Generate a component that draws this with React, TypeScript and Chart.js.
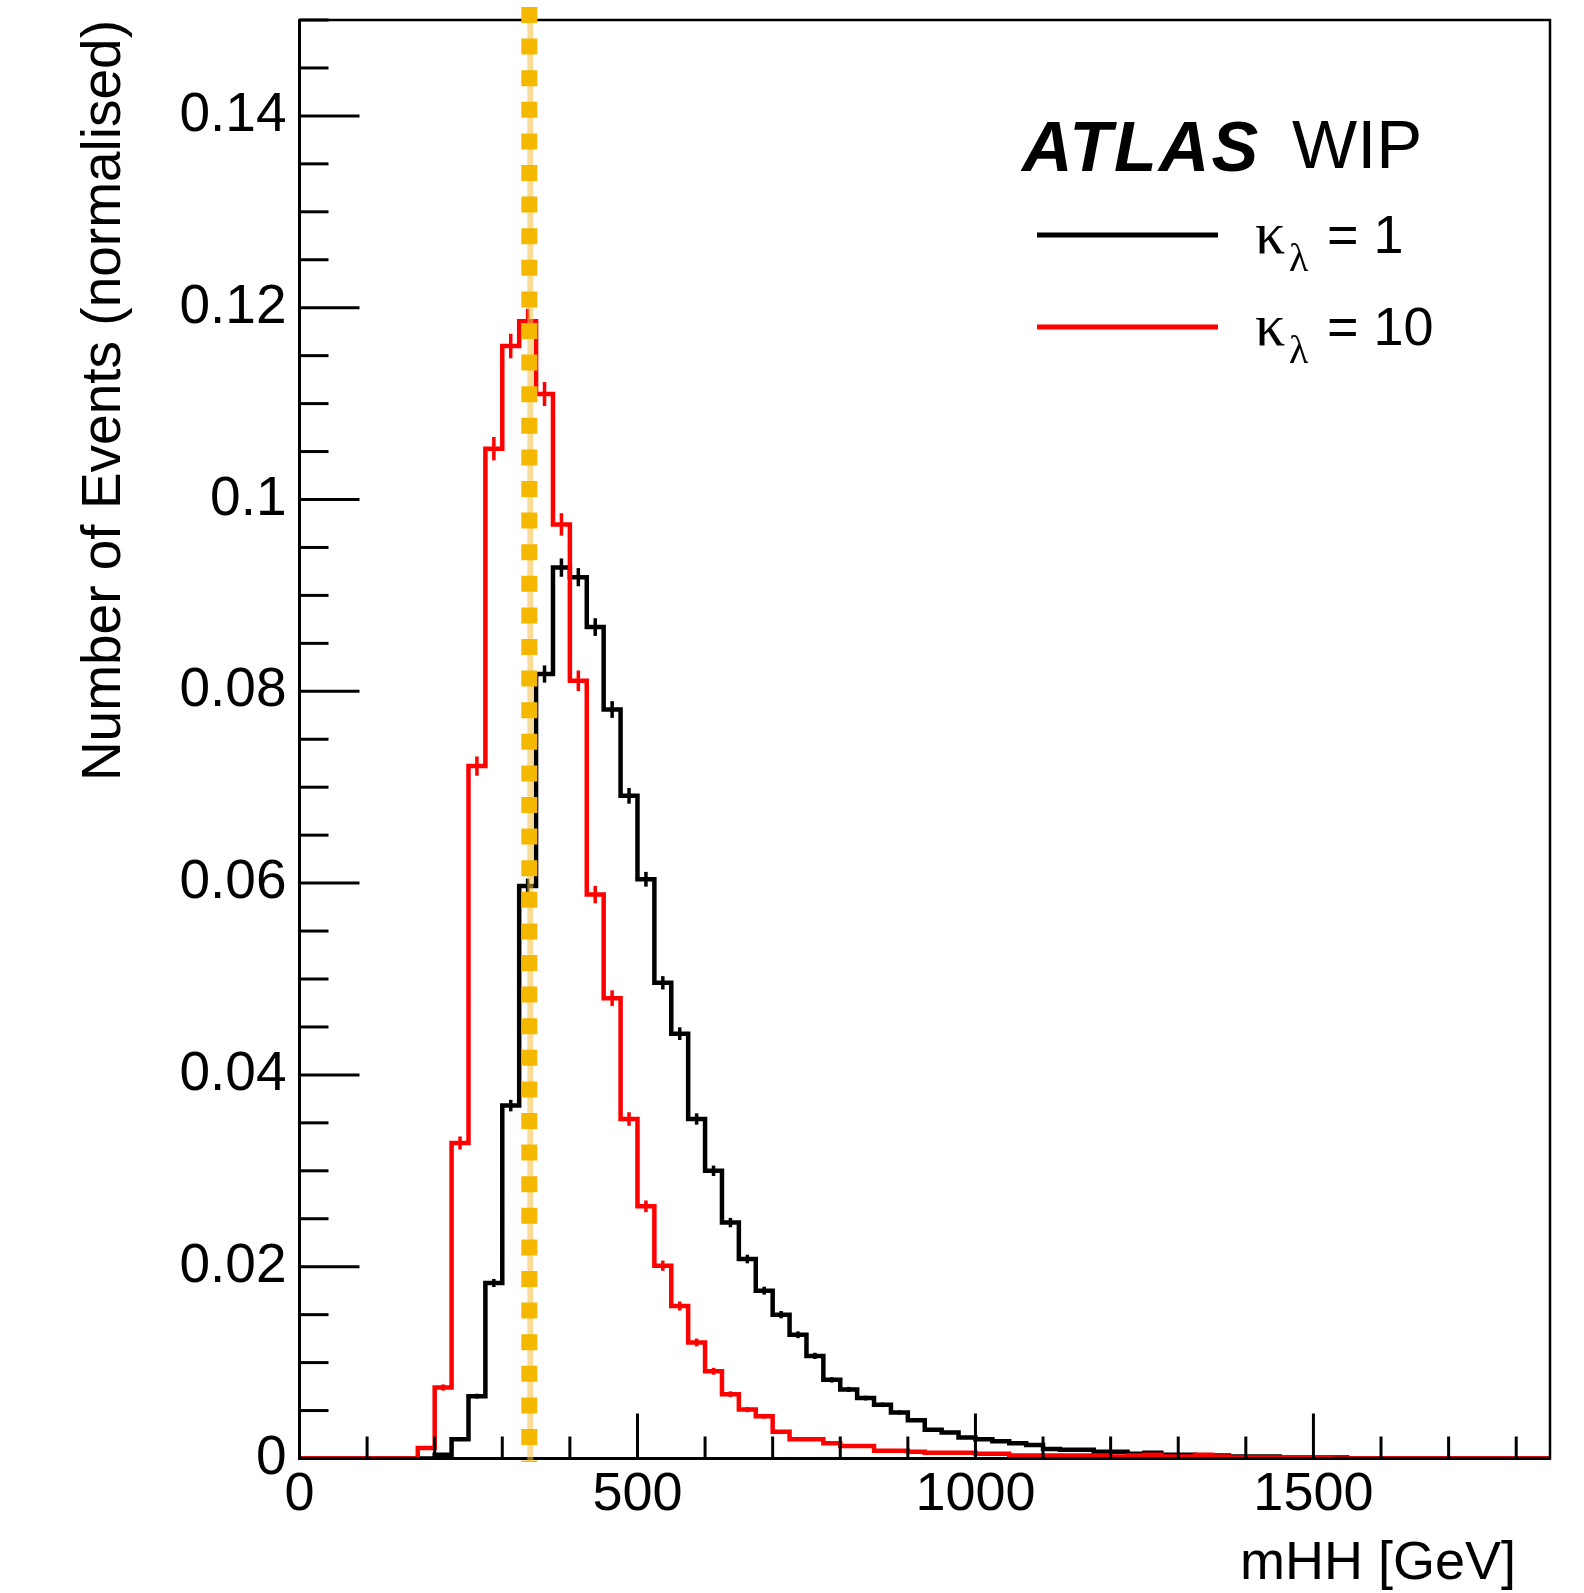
import React, { useEffect, useRef } from "react";
import { Chart, registerables } from "chart.js";

Chart.register(...registerables);

// ---- data ----
const BIN_WIDTH = 25; // GeV
const X_MIN = 0;
const X_MAX = 1850;
const Y_MIN = 0;
const Y_MAX = 0.15;
const xTickValues = [0, 500, 1000, 1500];
const yTickValues = [0, 0.02, 0.04, 0.06, 0.08, 0.1, 0.12, 0.14];
const xMinorStep = 100;
const yMinorStep = 0.005;

// kappa_lambda = 1 (black), bins of 25 GeV from 0 to 1850
const kappa1 = [
  0, 0, 0, 0, 0, 0, 0, 0,
  0.0004, 0.002, 0.0065, 0.0183, 0.0368, 0.0597, 0.0818, 0.0929, 0.0919, 0.0867,
  0.0781, 0.0691, 0.0604, 0.0496, 0.0443, 0.0354, 0.03, 0.0246, 0.0208, 0.0175,
  0.015, 0.0129, 0.0107, 0.0082, 0.0072, 0.0063, 0.0056, 0.0048, 0.004, 0.003,
  0.0027, 0.0022, 0.002, 0.0018, 0.0016, 0.0014, 0.001, 0.0009, 0.0009, 0.0007,
  0.0007, 0.0005, 0.0006, 0.0004, 0.0004, 0.0003, 0.0003, 0.0002, 0.0002, 0.0002,
  0.0001, 0.0001, 0.0001, 0.0001,
  0, 0, 0, 0, 0, 0, 0, 0, 0, 0, 0, 0,
];

// kappa_lambda = 10 (red)
const kappa10 = [
  0, 0, 0, 0, 0, 0, 0,
  0.0011, 0.0074, 0.0329, 0.0722, 0.1053, 0.116, 0.1186, 0.111, 0.0974, 0.0811,
  0.0588, 0.048, 0.0354, 0.0263, 0.0201, 0.0159, 0.0121, 0.0091, 0.0067, 0.0051,
  0.0044, 0.0028, 0.002, 0.002, 0.0016, 0.0013, 0.0013, 0.0008, 0.0008, 0.0007,
  0.0006, 0.0006, 0.0006, 0.0005, 0.0005, 0.0003, 0.0003, 0.0003, 0.0003, 0.0003,
  0.0003, 0.0002, 0.0003, 0.0004, 0.0002, 0.0002, 0.0004, 0.0002, 0.0001, 0.0001,
  0.0001, 0.0001, 0.0001, 0.0001,
  0, 0, 0, 0, 0, 0, 0, 0, 0, 0, 0, 0, 0,
];

const refMass = [340]; // GeV, vertical dashed marker
const legendValues = ["1", "10"];
const xTitle = "mHH [GeV]";
const yTitle = "Number of Events (normalised)";

const FONT = "'Liberation Sans', Arial, Helvetica, sans-serif";
const SERIF = "'Liberation Serif', 'Times New Roman', serif";
const RED = "#ff0000";
const BLACK = "#000000";
const ORANGE = "#f5b800";

function toPoints(vals: number[]) {
  const pts = vals.map((v, i) => ({ x: X_MIN + i * BIN_WIDTH, y: v }));
  pts.push({ x: X_MIN + vals.length * BIN_WIDTH, y: vals[vals.length - 1] });
  return pts;
}

const rootStyle = {
  id: "rootStyle",
  afterDraw(chart: any) {
    const { ctx, chartArea: a, scales } = chart;
    const xs = scales.x;
    const ys = scales.y;
    ctx.save();

    // error bars at bin centres
    chart.data.datasets.forEach((ds: any) => {
      ctx.strokeStyle = ds.borderColor;
      ctx.lineWidth = 3.5;
      (ds.binValues as number[]).forEach((v, i) => {
        if (v < 0.003) return;
        const cx = xs.getPixelForValue(X_MIN + (i + 0.5) * BIN_WIDTH);
        const cy = ys.getPixelForValue(v);
        const h = ds.errScale * Math.sqrt(v);
        ctx.beginPath();
        ctx.moveTo(cx, cy - h);
        ctx.lineTo(cx, cy + h);
        ctx.stroke();
      });
    });

    // frame
    ctx.strokeStyle = BLACK;
    ctx.lineWidth = 2.5;
    ctx.strokeRect(a.left, a.top, a.right - a.left, a.bottom - a.top);
    ctx.lineWidth = 3;
    ctx.beginPath();
    ctx.moveTo(a.left, a.top);
    ctx.lineTo(a.left, a.bottom);
    ctx.lineTo(a.right, a.bottom);
    ctx.stroke();

    // inside ticks
    ctx.lineWidth = 3;
    for (let v = X_MIN; v <= X_MAX + 1e-9; v += xMinorStep) {
      const px = xs.getPixelForValue(v);
      const major = xTickValues.includes(v);
      const len = major ? 45 : 22;
      ctx.beginPath();
      ctx.moveTo(px, a.bottom);
      ctx.lineTo(px, a.bottom - len);
      ctx.stroke();
    }
    const nY = Math.round((Y_MAX - Y_MIN) / yMinorStep);
    for (let k = 0; k <= nY; k++) {
      const v = Y_MIN + k * yMinorStep;
      const py = ys.getPixelForValue(v);
      const major = yTickValues.some((t) => Math.abs(t - v) < 1e-9);
      const len = major ? 60 : 29;
      ctx.beginPath();
      ctx.moveTo(a.left, py);
      ctx.lineTo(a.left + len, py);
      ctx.stroke();
    }

    // ATLAS WIP label
    ctx.fillStyle = BLACK;
    ctx.textBaseline = "alphabetic";
    ctx.textAlign = "left";
    ctx.font = `italic bold 70px ${FONT}`;
    (ctx as any).letterSpacing = "2px";
    ctx.fillText("ATLAS", 1022, 171);
    (ctx as any).letterSpacing = "0px";
    ctx.font = `69px ${FONT}`;
    ctx.fillText("WIP", 1292, 168);

    // legend
    const colors = [BLACK, RED];
    const rowsY = [235, 327];
    legendValues.forEach((val, i) => {
      const y = rowsY[i];
      ctx.strokeStyle = colors[i];
      ctx.lineWidth = 5;
      ctx.beginPath();
      ctx.moveTo(1037, y);
      ctx.lineTo(1218, y);
      ctx.stroke();
      ctx.fillStyle = BLACK;
      ctx.font = `60px ${SERIF}`;
      ctx.fillText("κ", 1255, y + 18);
      ctx.font = `40px ${SERIF}`;
      ctx.fillText("λ", 1289, y + 36);
      ctx.font = `54px ${FONT}`;
      ctx.fillText("= " + val, 1327, y + 18);
    });

    // x title
    ctx.font = `54px ${FONT}`;
    ctx.textAlign = "right";
    ctx.fillText(xTitle, 1516, 1579);

    // reference marker (dashed orange)
    const mx = xs.getPixelForValue(refMass[0]);
    ctx.strokeStyle = "rgba(246,192,70,0.55)";
    ctx.lineWidth = 6;
    ctx.setLineDash([]);
    ctx.beginPath();
    ctx.moveTo(mx + 1, 7);
    ctx.lineTo(mx + 1, 1462);
    ctx.stroke();
    ctx.strokeStyle = ORANGE;
    ctx.lineWidth = 16;
    ctx.setLineDash([16, 15.6]);
    ctx.beginPath();
    ctx.moveTo(mx, 7);
    ctx.lineTo(mx, 1462);
    ctx.stroke();
    ctx.setLineDash([]);

    ctx.restore();
  },
};

export default function App() {
  const ref = useRef<HTMLCanvasElement>(null);

  useEffect(() => {
    if (!ref.current) return;
    const chart = new Chart(ref.current, {
      type: "line",
      data: {
        datasets: [
          {
            label: "κλ = 10",
            data: toPoints(kappa10),
            binValues: kappa10,
            errScale: 36,
            borderColor: RED,
            borderWidth: 4.5,
            stepped: true,
            pointRadius: 0,
            fill: false,
            order: 0,
          } as any,
          {
            label: "κλ = 1",
            data: toPoints(kappa1),
            binValues: kappa1,
            errScale: 30,
            borderColor: BLACK,
            borderWidth: 4.5,
            stepped: true,
            pointRadius: 0,
            fill: false,
            order: 1,
          } as any,
        ],
      },
      options: {
        responsive: false,
        animation: false,
        layout: { padding: { left: 0, top: 20, right: 34, bottom: 0 } },
        plugins: {
          legend: { display: false },
          tooltip: { enabled: false },
        },
        scales: {
          x: {
            type: "linear",
            min: X_MIN,
            max: X_MAX,
            grid: { display: false, drawTicks: false },
            border: { display: false },
            afterBuildTicks: (s: any) => {
              s.ticks = xTickValues.map((v) => ({ value: v }));
            },
            afterFit: (s: any) => {
              s.height = 134.5;
              s.paddingLeft = 0;
              s.paddingRight = 0;
            },
            ticks: {
              autoSkip: false,
              maxRotation: 0,
              padding: 4,
              color: BLACK,
              font: { size: 54, family: FONT },
              callback: (v: any) => String(v),
            },
          },
          y: {
            type: "linear",
            min: Y_MIN,
            max: Y_MAX,
            grid: { display: false, drawTicks: false },
            border: { display: false },
            afterBuildTicks: (s: any) => {
              s.ticks = yTickValues.map((v) => ({ value: v }));
            },
            afterFit: (s: any) => {
              s.width = 299.5;
              s.paddingTop = 0;
              s.paddingBottom = 0;
            },
            ticks: {
              padding: 13,
              color: BLACK,
              font: { size: 55, family: FONT },
              callback: (v: any) => String(Number(Number(v).toFixed(4))),
            },
            title: {
              display: true,
              text: yTitle,
              align: "end",
              color: BLACK,
              font: { size: 55, family: FONT },
              padding: { top: 72, bottom: 0 },
            },
          },
        },
      },
      plugins: [rootStyle],
    } as any);
    return () => chart.destroy();
  }, []);

  return (
    <div
      style={{
        position: "fixed",
        left: 0,
        top: 0,
        width: 1584,
        height: 1593,
        background: "#ffffff",
      }}
    >
      <canvas
        ref={ref}
        width={1584}
        height={1593}
        style={{ display: "block", width: 1584, height: 1593 }}
      />
    </div>
  );
}
